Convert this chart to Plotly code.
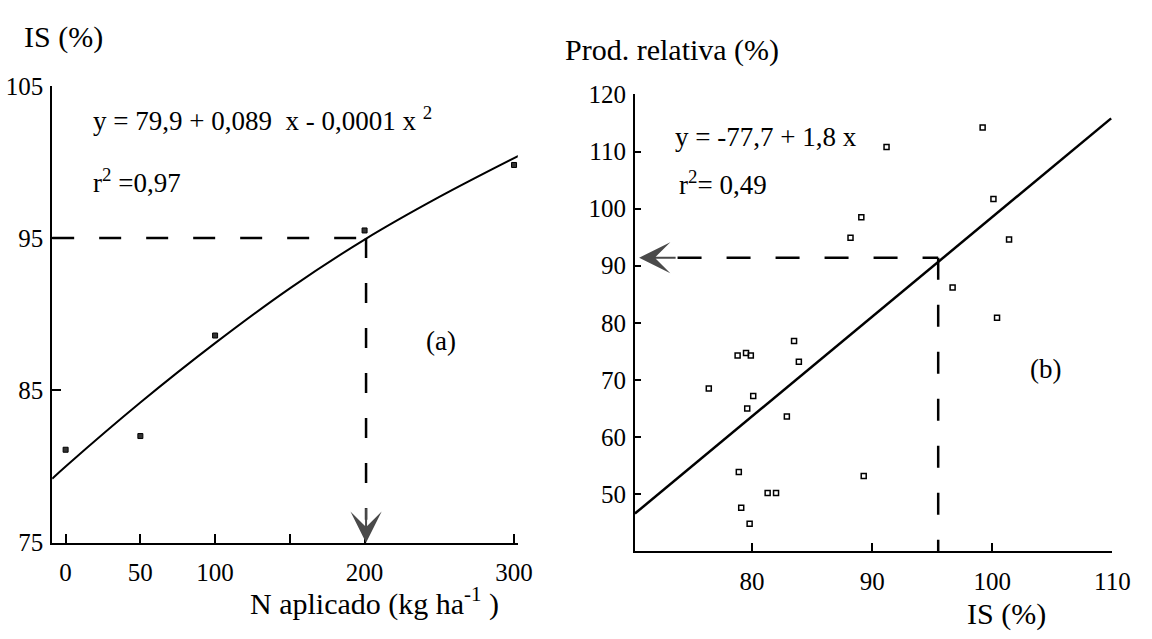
import plotly.graph_objects as go

# ---------------- data ----------------
# panel (a): N rate vs IS
n_applied = [0, 50, 100, 200, 300]
is_values = [81.1, 82.0, 88.6, 95.5, 99.8]
fit_a_x = [-9, 0, 50, 100, 150, 200, 250, 303]
fit_a_y = [79.2, 80.0, 84.2, 88.1, 91.7, 94.9, 97.7, 100.4]
a_xticks = [0, 50, 100, 150, 200, 300]
a_xlabels = ["0", "50", "100", "", "200", "300"]
a_yticks = [75, 85, 95, 105]
a_ylabels = ["75", "85", "95", "105"]
a_ref_is = 95
a_ref_n = 201

# panel (b): IS vs relative yield
is_b = [91.2, 99.2, 100.1, 89.1, 88.2, 101.4, 96.7, 100.4, 83.5, 78.8, 79.5,
        79.9, 83.9, 76.4, 80.1, 79.6, 82.9, 78.9, 89.3, 81.3, 82.0, 79.1, 79.8]
prod_b = [110.8, 114.2, 101.7, 98.5, 94.9, 94.6, 86.2, 80.9, 76.8, 74.3, 74.7,
          74.3, 73.2, 68.5, 67.2, 65.0, 63.6, 53.9, 53.2, 50.2, 50.2, 47.6, 44.8]
fit_b_x = [70.25, 109.9]
fit_b_y = [46.6, 115.8]
b_xticks = [80, 90, 100, 110]
b_xlabels = ["80", "90", "100", "110"]
b_yticks = [50, 60, 70, 80, 90, 100, 110, 120]
b_ylabels = ["50", "60", "70", "80", "90", "100", "110", "120"]
b_ref_is = 95.5
b_ref_prod = 91.4

FONT = "Liberation Serif, Times New Roman, serif"
W, H = 1152, 639


def px(x):
    return x / W


def py(y):
    return 1 - y / H


fig = go.Figure()

# ---- panel (a) ----
fig.add_trace(go.Scatter(x=fit_a_x, y=fit_a_y, mode="lines", line=dict(color="black", width=2, shape="spline"),
                         xaxis="x", yaxis="y", hoverinfo="skip", cliponaxis=False))
fig.add_trace(go.Scatter(x=[fit_a_x[0], a_ref_n], y=[a_ref_is, a_ref_is], mode="lines",
                         line=dict(color="black", width=2.5, dash="22px,25px"), xaxis="x", yaxis="y"))
fig.add_trace(go.Scatter(x=[a_ref_n, a_ref_n], y=[a_ref_is, 76.5], mode="lines",
                         line=dict(color="black", width=2.5, dash="20px,25px"), xaxis="x", yaxis="y"))
fig.add_trace(go.Scatter(x=n_applied, y=is_values, mode="markers",
                         marker=dict(symbol="square", size=5, color="#333", line=dict(color="black", width=1)),
                         xaxis="x", yaxis="y", cliponaxis=False))

# ---- panel (b) ----
fig.add_trace(go.Scatter(x=fit_b_x, y=fit_b_y, mode="lines", line=dict(color="black", width=2.5),
                         xaxis="x2", yaxis="y2", cliponaxis=False))
fig.add_trace(go.Scatter(x=[73.8, b_ref_is], y=[b_ref_prod, b_ref_prod], mode="lines",
                         line=dict(color="black", width=2.5, dash="24px,25px"), xaxis="x2", yaxis="y2"))
fig.add_trace(go.Scatter(x=[b_ref_is, b_ref_is], y=[b_ref_prod, 40], mode="lines",
                         line=dict(color="black", width=2.5, dash="22px,25px"), xaxis="x2", yaxis="y2"))
fig.add_trace(go.Scatter(x=is_b, y=prod_b, mode="markers",
                         marker=dict(symbol="square-open", size=5, color="black", line=dict(color="black", width=1.5)),
                         xaxis="x2", yaxis="y2", cliponaxis=False))

axis_common = dict(showline=True, linecolor="black", linewidth=2, showgrid=False, zeroline=False,
                   tickcolor="black", tickwidth=2, tickfont=dict(family=FONT, size=25, color="black"),
                   tickmode="array")

fig.update_layout(
    width=W, height=H, margin=dict(l=0, r=0, t=0, b=0),
    paper_bgcolor="white", plot_bgcolor="white", showlegend=False,
    font=dict(family=FONT, color="black"),
    xaxis=dict(axis_common, domain=[px(53), px(526)], range=[-9, 302.5], anchor="y",
               ticks="inside", ticklen=9, tickvals=a_xticks, ticktext=a_xlabels, ticklabelstandoff=6),
    yaxis=dict(axis_common, domain=[py(553), py(76)], range=[75, 105], anchor="x",
               ticks="inside", ticklen=9, tickvals=a_yticks, ticktext=a_ylabels, ticklabelstandoff=2),
    xaxis2=dict(axis_common, domain=[px(645), px(1130)], range=[70.25, 110], anchor="y2",
                ticks="inside", ticklen=8, tickvals=b_xticks, ticktext=b_xlabels, ticklabelstandoff=7),
    yaxis2=dict(axis_common, domain=[py(562), py(85)], range=[40, 120], anchor="x2",
                ticks="inside", ticklen=6, tickvals=b_yticks, ticktext=b_ylabels, ticklabelstandoff=2),
)

ann = []
TF = dict(family=FONT, size=27, color="black")
TT = dict(family=FONT, size=30, color="black")


def label(text, x, y, xanchor="left", yanchor="bottom", font=TT):
    return dict(text=text, x=px(x), y=py(y), xref="paper", yref="paper", xanchor=xanchor, yanchor=yanchor,
                showarrow=False, font=font)


# axis titles
ann.append(label("IS (%)", 22, 45))
ann.append(label("Prod. relativa (%)", 572, 58))
ann.append(label("N aplicado (kg ha<sup>-1</sup> )", 252, 637))
ann.append(label("IS (%)", 980, 647))
# equations
ann.append(label("y = 79,9 + 0,089\u00a0\u00a0x - 0,0001 x <sup>2</sup>", 92, 130, font=TF))
ann.append(label("r<sup>2</sup> =0,97", 92, 195, font=TF))
ann.append(label("y = -77,7 + 1,8 x", 684, 147, font=TF))
ann.append(label("r<sup>2</sup>= 0,49", 688, 197, font=TF))
ann.append(label("(a)", 448, 342, xanchor="center", yanchor="middle", font=TF))
ann.append(label("(b)", 1062, 372, xanchor="center", yanchor="middle", font=TF))
# arrows
ann.append(dict(x=a_ref_n, y=75, xref="x", yref="y", ax=0, ay=-36, text="", showarrow=True, arrowhead=3,
                arrowsize=2.6, arrowwidth=2, arrowcolor="#4a4a4a", standoff=0))
ann.append(dict(x=70.6, y=b_ref_prod, xref="x2", yref="y2", ax=38, ay=0, text="", showarrow=True, arrowhead=3,
                arrowsize=2.6, arrowwidth=2, arrowcolor="#4a4a4a", standoff=0))
fig.update_layout(annotations=ann)

fig.write_html("out.html")
